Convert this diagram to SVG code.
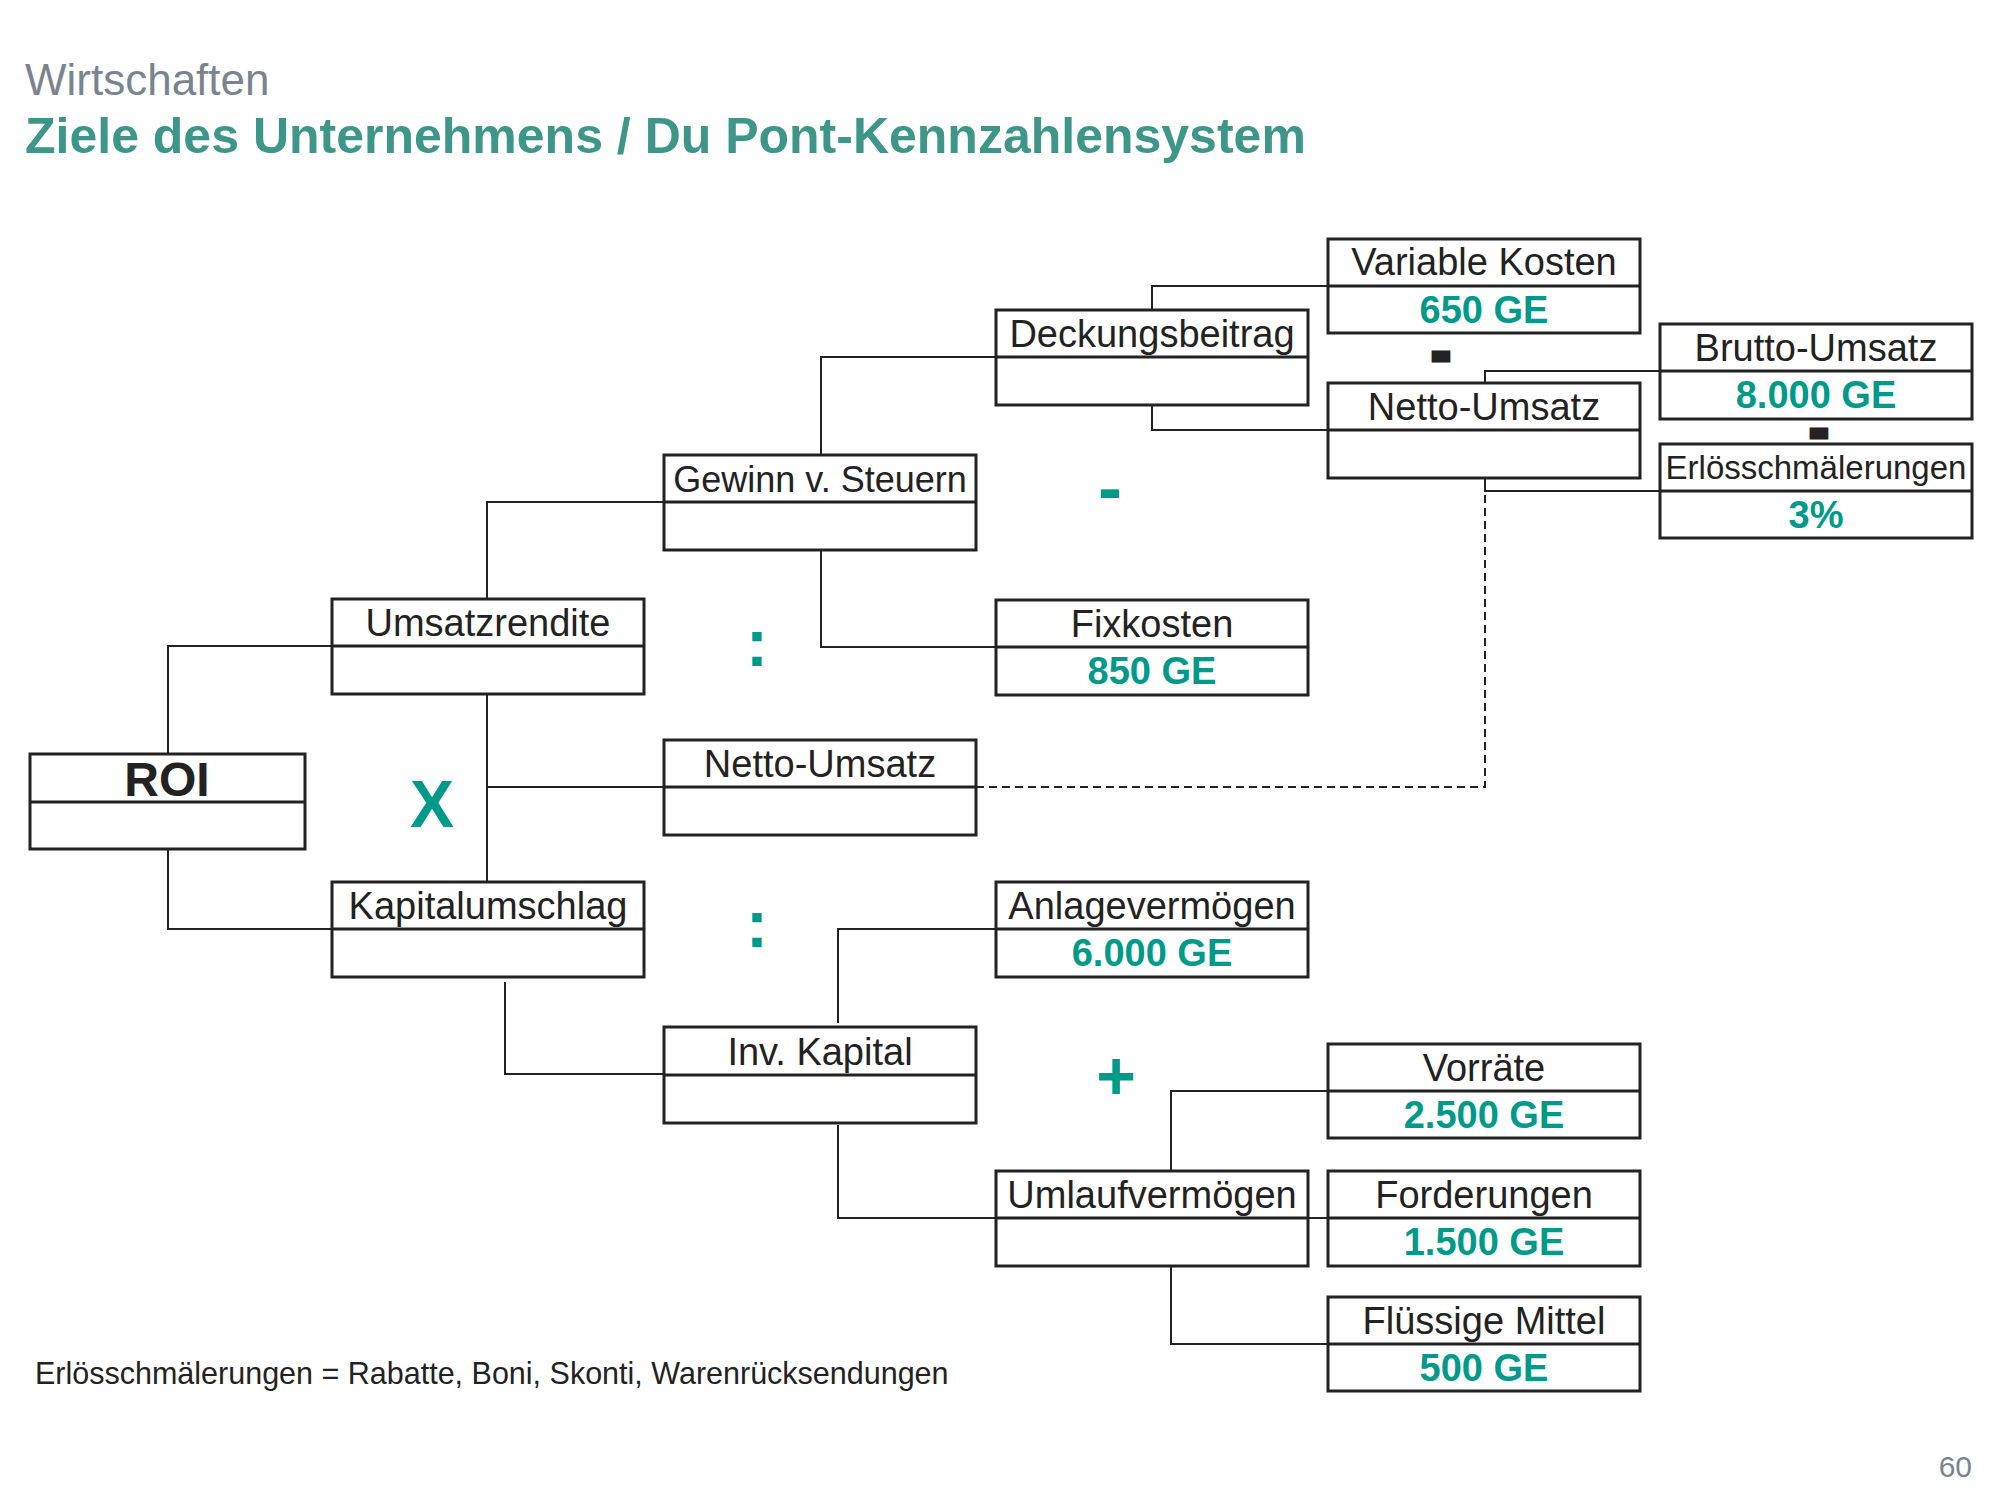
<svg xmlns="http://www.w3.org/2000/svg" width="2000" height="1500" viewBox="0 0 2000 1500">
<style>
  .bx { fill: #ffffff; stroke: #222222; stroke-width: 3; }
  .dv { stroke: #222222; stroke-width: 3; }
  .cn { fill: none; stroke: #222222; stroke-width: 2; }
  .dash { fill: none; stroke: #222222; stroke-width: 2; stroke-dasharray: 8 5; }
  .lb { font-family: "Liberation Sans", Arial, sans-serif; font-size: 38px; fill: #222222; text-anchor: middle; }
  .vl { font-family: "Liberation Sans", Arial, sans-serif; font-size: 38px; font-weight: bold; fill: #00998a; text-anchor: middle; }
  .op { font-family: "Liberation Sans", Arial, sans-serif; font-weight: bold; fill: #00998a; text-anchor: middle; }
  .opk { font-family: "Liberation Sans", Arial, sans-serif; font-weight: bold; fill: #222222; stroke: #222222; stroke-width: 9; text-anchor: middle; font-size: 26px; }
</style>
<rect width="2000" height="1500" fill="#ffffff"/>
<text x="25" y="95" font-family="Liberation Sans, Arial, sans-serif" font-size="44" fill="#7a848e">Wirtschaften</text>
<text x="25" y="153" font-family="Liberation Sans, Arial, sans-serif" font-size="50" font-weight="bold" fill="#3d9688">Ziele des Unternehmens / Du Pont-Kennzahlensystem</text>

<g id="connectors">
  <path class="cn" d="M168,754 V646 H332"/>
  <path class="cn" d="M168,849 V929 H332"/>
  <path class="cn" d="M487,693 V882"/>
  <path class="cn" d="M487,787 H664"/>
  <path class="cn" d="M487,599 V502 H664"/>
  <path class="cn" d="M505,982 V1074 H664"/>
  <path class="cn" d="M821,455 V357 H996"/>
  <path class="cn" d="M821,550 V647 H996"/>
  <path class="cn" d="M838,1023 V929 H996"/>
  <path class="cn" d="M838,1125 V1218 H996"/>
  <path class="cn" d="M1152,310 V286 H1328"/>
  <path class="cn" d="M1152,405 V430 H1328"/>
  <path class="cn" d="M1485,383 V371 H1660"/>
  <path class="cn" d="M1485,478 V491 H1660"/>
  <path class="dash" d="M976,787 H1485 V491"/>
  <path class="cn" d="M1171,1171 V1091 H1328"/>
  <path class="cn" d="M1308,1218 H1328"/>
  <path class="cn" d="M1171,1266 V1344 H1328"/>
</g>

<g id="roi">
  <rect class="bx" x="30" y="754" width="275" height="95"/>
  <line class="dv" x1="30" y1="802" x2="305" y2="802"/>
  <text x="167" y="796" font-family="Liberation Sans, Arial, sans-serif" font-size="48" font-weight="bold" fill="#222222" text-anchor="middle">ROI</text>
</g>
<g id="umsatzrendite">
  <rect class="bx" x="332" y="599" width="312" height="95"/>
  <line class="dv" x1="332" y1="646" x2="644" y2="646"/>
  <text class="lb" x="488" y="636">Umsatzrendite</text>
</g>
<g id="kapitalumschlag">
  <rect class="bx" x="332" y="882" width="312" height="95"/>
  <line class="dv" x1="332" y1="929" x2="644" y2="929"/>
  <text class="lb" x="488" y="919">Kapitalumschlag</text>
</g>
<g id="gewinn">
  <rect class="bx" x="664" y="455" width="312" height="95"/>
  <line class="dv" x1="664" y1="502" x2="976" y2="502"/>
  <text class="lb" x="820" y="492" style="font-size:36px">Gewinn v. Steuern</text>
</g>
<g id="netto-umsatz-mitte">
  <rect class="bx" x="664" y="740" width="312" height="95"/>
  <line class="dv" x1="664" y1="787" x2="976" y2="787"/>
  <text class="lb" x="820" y="777">Netto-Umsatz</text>
</g>
<g id="inv-kapital">
  <rect class="bx" x="664" y="1027" width="312" height="96"/>
  <line class="dv" x1="664" y1="1075" x2="976" y2="1075"/>
  <text class="lb" x="820" y="1065">Inv. Kapital</text>
</g>
<g id="deckungsbeitrag">
  <rect class="bx" x="996" y="310" width="312" height="95"/>
  <line class="dv" x1="996" y1="357" x2="1308" y2="357"/>
  <text class="lb" x="1152" y="347">Deckungsbeitrag</text>
</g>
<g id="fixkosten">
  <rect class="bx" x="996" y="600" width="312" height="95"/>
  <line class="dv" x1="996" y1="647" x2="1308" y2="647"/>
  <text class="lb" x="1152" y="637">Fixkosten</text>
  <text class="vl" x="1152" y="684">850 GE</text>
</g>
<g id="anlagevermoegen">
  <rect class="bx" x="996" y="882" width="312" height="95"/>
  <line class="dv" x1="996" y1="929" x2="1308" y2="929"/>
  <text class="lb" x="1152" y="919">Anlagevermögen</text>
  <text class="vl" x="1152" y="966">6.000 GE</text>
</g>
<g id="umlaufvermoegen">
  <rect class="bx" x="996" y="1171" width="312" height="95"/>
  <line class="dv" x1="996" y1="1218" x2="1308" y2="1218"/>
  <text class="lb" x="1152" y="1208">Umlaufvermögen</text>
</g>
<g id="variable-kosten">
  <rect class="bx" x="1328" y="239" width="312" height="94"/>
  <line class="dv" x1="1328" y1="286" x2="1640" y2="286"/>
  <text class="lb" x="1484" y="275">Variable Kosten</text>
  <text class="vl" x="1484" y="323">650 GE</text>
</g>
<g id="netto-umsatz-oben">
  <rect class="bx" x="1328" y="383" width="312" height="95"/>
  <line class="dv" x1="1328" y1="430" x2="1640" y2="430"/>
  <text class="lb" x="1484" y="420">Netto-Umsatz</text>
</g>
<g id="vorraete">
  <rect class="bx" x="1328" y="1044" width="312" height="94"/>
  <line class="dv" x1="1328" y1="1091" x2="1640" y2="1091"/>
  <text class="lb" x="1484" y="1081">Vorräte</text>
  <text class="vl" x="1484" y="1128">2.500 GE</text>
</g>
<g id="forderungen">
  <rect class="bx" x="1328" y="1171" width="312" height="95"/>
  <line class="dv" x1="1328" y1="1218" x2="1640" y2="1218"/>
  <text class="lb" x="1484" y="1208">Forderungen</text>
  <text class="vl" x="1484" y="1255">1.500 GE</text>
</g>
<g id="fluessige-mittel">
  <rect class="bx" x="1328" y="1297" width="312" height="94"/>
  <line class="dv" x1="1328" y1="1344" x2="1640" y2="1344"/>
  <text class="lb" x="1484" y="1334">Flüssige Mittel</text>
  <text class="vl" x="1484" y="1381">500 GE</text>
</g>
<g id="brutto-umsatz">
  <rect class="bx" x="1660" y="324" width="312" height="95"/>
  <line class="dv" x1="1660" y1="371" x2="1972" y2="371"/>
  <text class="lb" x="1816" y="361">Brutto-Umsatz</text>
  <text class="vl" x="1816" y="408">8.000 GE</text>
</g>
<g id="erloesschmaelerungen">
  <rect class="bx" x="1660" y="444" width="312" height="94"/>
  <line class="dv" x1="1660" y1="491" x2="1972" y2="491"/>
  <text class="lb" x="1816" y="479" style="font-size:33px">Erlösschmälerungen</text>
  <text class="vl" x="1816" y="528">3%</text>
</g>

<g id="operators">
  <text class="op" x="432" y="827" font-size="66">X</text>
  <text class="op" x="757" y="666" font-size="66">:</text>
  <text class="op" x="757" y="947" font-size="66">:</text>
  <text class="op" x="1110" y="512" font-size="72">-</text>
  <text class="op" x="1116" y="1099" font-size="68">+</text>
  <text class="opk" transform="translate(1441,362.5) scale(1.2,1)" x="0" y="0">-</text>
  <text class="opk" transform="translate(1819,439.5) scale(1.2,1)" x="0" y="0">-</text>
</g>

<text x="35" y="1384" font-family="Liberation Sans, Arial, sans-serif" font-size="30.5" fill="#222222">Erlösschmälerungen = Rabatte, Boni, Skonti, Warenrücksendungen</text>
<text x="1972" y="1477" font-family="Liberation Sans, Arial, sans-serif" font-size="30" fill="#7a848e" text-anchor="end">60</text>
</svg>
